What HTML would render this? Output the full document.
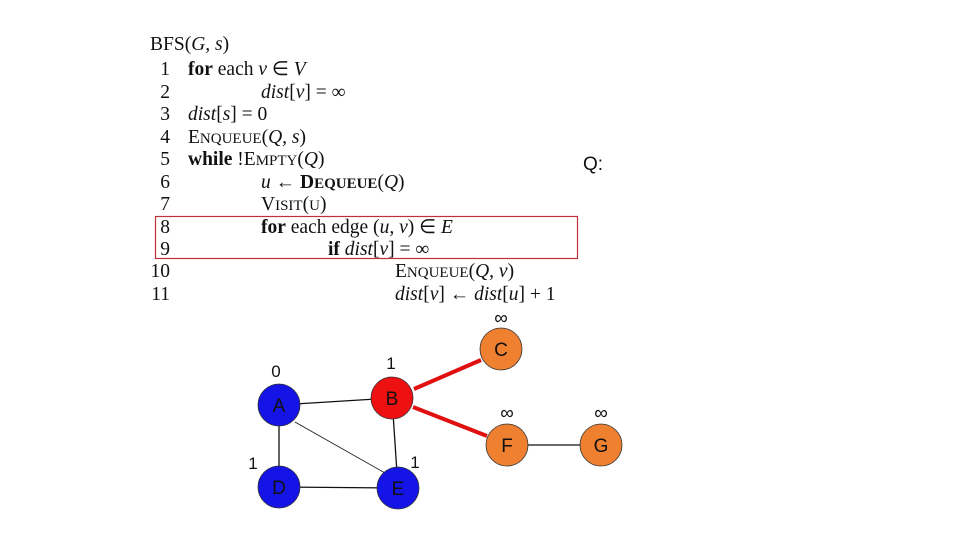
<!DOCTYPE html>
<html><head><meta charset="utf-8"><style>
html,body{margin:0;padding:0;background:#fff;}
svg{display:block;}
.s{font-family:"Liberation Serif",serif;font-size:19.5px;fill:#111;}
.sc{font-size:15px;}
.g{font-family:"Liberation Sans",sans-serif;font-size:19px;fill:#111;}
</style></head><body>
<svg width="960" height="540" viewBox="0 0 960 540">
<g class="s">
<text x="150" y="50">BFS(<tspan font-style="italic">G, s</tspan>)</text>
<g text-anchor="end">
<text x="170" y="75">1</text><text x="170" y="98">2</text><text x="170" y="120">3</text>
<text x="170" y="143">4</text><text x="170" y="165">5</text><text x="170" y="188">6</text>
<text x="170" y="210">7</text><text x="170" y="233">8</text><text x="170" y="255">9</text>
<text x="170" y="277">10</text><text x="170" y="300">11</text>
</g>
<text x="188" y="75"><tspan font-weight="bold">for</tspan> each <tspan font-style="italic">v</tspan> ∈ <tspan font-style="italic">V</tspan></text>
<text x="261" y="98"><tspan font-style="italic">dist</tspan>[<tspan font-style="italic">v</tspan>] = ∞</text>
<text x="188" y="120"><tspan font-style="italic">dist</tspan>[<tspan font-style="italic">s</tspan>] = 0</text>
<text x="188" y="143">E<tspan class="sc">NQUEUE</tspan>(<tspan font-style="italic">Q, s</tspan>)</text>
<text x="188" y="165"><tspan font-weight="bold">while</tspan> !E<tspan class="sc">MPTY</tspan>(<tspan font-style="italic">Q</tspan>)</text>
<text x="261" y="188"><tspan font-style="italic">u</tspan> ← <tspan font-weight="bold">D</tspan><tspan class="sc" font-weight="bold">EQUEUE</tspan>(<tspan font-style="italic">Q</tspan>)</text>
<text x="261" y="210">V<tspan class="sc">ISIT</tspan>(<tspan class="sc">U</tspan>)</text>
<text x="261" y="233"><tspan font-weight="bold">for</tspan> each edge (<tspan font-style="italic">u, v</tspan>) ∈ <tspan font-style="italic">E</tspan></text>
<text x="328" y="255"><tspan font-weight="bold">if</tspan> <tspan font-style="italic">dist</tspan>[<tspan font-style="italic">v</tspan>] = ∞</text>
<text x="395" y="277">E<tspan class="sc">NQUEUE</tspan>(<tspan font-style="italic">Q, v</tspan>)</text>
<text x="395" y="300"><tspan font-style="italic">dist</tspan>[<tspan font-style="italic">v</tspan>] ← <tspan font-style="italic">dist</tspan>[<tspan font-style="italic">u</tspan>] + 1</text>
</g>
<rect x="155.5" y="216.5" width="422" height="42" fill="none" stroke="#c0303a" stroke-width="1.2"/>
<text x="583" y="170" class="g" font-size="18">Q:</text>

<g stroke="#111" stroke-width="1.3">
<line x1="279" y1="405" x2="392" y2="398"/>
<line x1="279" y1="405" x2="279" y2="487"/>
<line x1="279" y1="487" x2="398" y2="488"/>
<line x1="392" y1="398" x2="398" y2="488"/>
<line x1="507" y1="445" x2="601" y2="445"/>
</g>
<line x1="295" y1="422" x2="385" y2="473" stroke="#111" stroke-width="0.8"/>
<g stroke="#e01010" stroke-width="4">
<line x1="414" y1="389" x2="481" y2="360"/>
<line x1="413" y1="407" x2="487" y2="436"/>
</g>
<g stroke="#333" stroke-width="0.8">
<circle cx="279" cy="405" r="21" fill="#1414e6"/>
<circle cx="279" cy="487" r="21" fill="#1414e6"/>
<circle cx="398" cy="488" r="21" fill="#1414e6"/>
<circle cx="392" cy="398" r="21" fill="#ee1111"/>
<circle cx="501" cy="349" r="21" fill="#ee8030"/>
<circle cx="507" cy="445" r="21" fill="#ee8030"/>
<circle cx="601" cy="445" r="21" fill="#ee8030"/>
</g>
<g class="g" text-anchor="middle">
<text x="279" y="412">A</text><text x="279" y="494">D</text><text x="398" y="495">E</text>
<text x="392" y="405">B</text><text x="501" y="356">C</text><text x="507" y="452">F</text><text x="601" y="452">G</text>
<text x="276" y="377" font-size="17">0</text>
<text x="391" y="369" font-size="17">1</text>
<text x="253" y="469" font-size="17">1</text>
<text x="415" y="468" font-size="17">1</text>
<text x="501" y="324" font-size="19">∞</text>
<text x="507" y="419" font-size="19">∞</text>
<text x="601" y="419" font-size="19">∞</text>
</g>
</svg>
</body></html>
